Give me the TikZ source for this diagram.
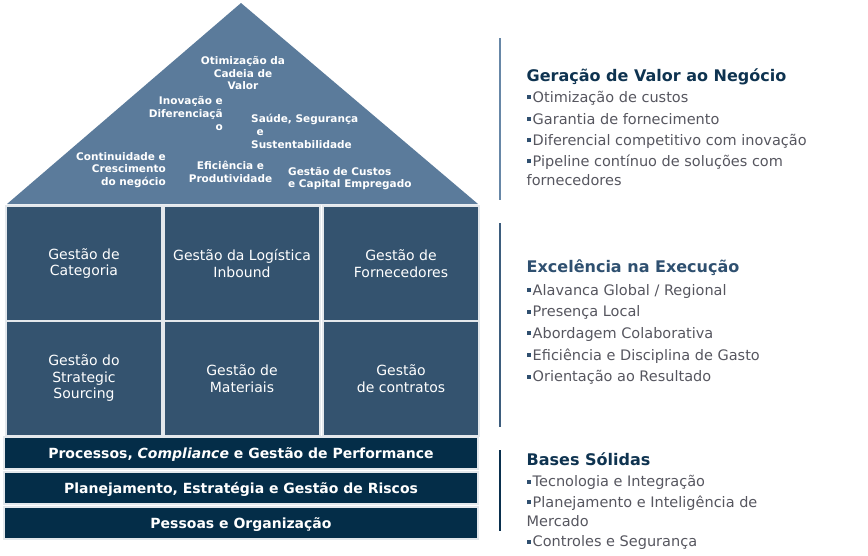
\documentclass[tikz,border=0pt]{standalone}
\usepackage{fontspec}
\setmainfont{DejaVu Sans}
\definecolor{roofc}{HTML}{5B7B9B}
\definecolor{cellc}{HTML}{34536F}
\definecolor{barc}{HTML}{042D48}
\definecolor{edgec}{HTML}{E4E8EC}
\definecolor{lineA}{HTML}{6787A7}
\definecolor{lineB}{HTML}{3D5D7D}
\definecolor{lineC}{HTML}{0A304E}
\definecolor{titleA}{HTML}{0E3350}
\definecolor{titleB}{HTML}{2F5070}
\definecolor{itemc}{HTML}{56565F}
\definecolor{bulc}{HTML}{2F4F6F}
\newcommand{\bulsq}{\textcolor{bulc}{\rule[0.22em]{4pt}{4pt}}\hspace{1.5pt}}
\tikzset{
  rooftxt/.style={text=white, font=\fontsize{10.5}{12.7}\selectfont\bfseries, inner sep=0pt},
  cellbox/.style={rectangle, fill=cellc, draw=edgec, line width=1.6pt, minimum width=156pt, minimum height=115pt, text=white, align=center, inner sep=0pt, font=\fontsize{14}{16.5}\selectfont},
  barbox/.style={rectangle, fill=barc, draw=edgec, line width=1.4pt, minimum width=474pt, minimum height=32pt, text=white, inner sep=0pt, text height=12pt, text depth=2pt, font=\fontsize{14}{16}\selectfont\bfseries},
  sidetitle/.style={anchor=base west, inner sep=0pt, font=\fontsize{16}{19}\selectfont\bfseries},
  sideitem/.style={anchor=base west, inner sep=0pt, text=itemc, font=\fontsize{14.5}{18.5}\selectfont, align=left},
  sideline/.style={line width=2.2pt}
}
\begin{document}
\begin{tikzpicture}[x=1pt,y=-1pt]
\useasboundingbox (0,0) rectangle (868,555);
% roof
\coordinate (apex) at (241,3);
\coordinate (roofL) at (7,204);
\coordinate (roofR) at (478,204);
\fill[roofc] (apex) -- (roofR) -- (roofL) -- cycle;
\node[rooftxt, align=center] (r1) at (243,73) {Otimização da\\Cadeia de\\Valor};
\node[rooftxt, align=right, anchor=east] (r2) at (223,113.5) {Inovação e\\Diferenciaçã\\o};
\node[rooftxt, align=left, anchor=west] (r3) at (251,131.5) {Saúde, Segurança\\\hspace{5.5pt}e\\Sustentabilidade};
\node[rooftxt, align=right, anchor=east] (r4) at (166,170) {Continuidade e\\Crescimento\\do negócio};
\node[rooftxt, align=center] (r5) at (230.5,172) {Eficiência e\\Produtividade};
\node[rooftxt, align=left, anchor=west] (r6) at (288,178.5) {Gestão de Custos\\e Capital Empregado};
% grid
\node[cellbox] (c11) at (84,263.5) {Gestão de\\Categoria};
\node[cellbox] (c12) at (242,263.5) {Gestão da Logística\\Inbound};
\node[cellbox] (c13) at (401,263.5) {Gestão de\\Fornecedores};
\node[cellbox] (c21) at (84,378.5) {Gestão do\\Strategic\\Sourcing};
\node[cellbox] (c22) at (242,378.5) {Gestão de\\Materiais};
\node[cellbox] (c23) at (401,378.5) {Gestão\\de contratos};
% bars
\node[barbox] (b1) at (241,453) {Processos, \textit{Compliance} e Gestão de Performance};
\node[barbox] (b2) at (241,488) {Planejamento, Estratégia e Gestão de Riscos};
\node[barbox] (b3) at (241,523) {Pessoas e Organização};
% side lines
\coordinate (la1) at (500,38); \coordinate (la2) at (500,200);
\coordinate (lb1) at (500,223); \coordinate (lb2) at (500,427);
\coordinate (lc1) at (500,450); \coordinate (lc2) at (500,531);
\draw[sideline, lineA] (la1) -- (la2);
\draw[sideline, lineB] (lb1) -- (lb2);
\draw[sideline, lineC] (lc1) -- (lc2);
% side texts: Geração
\node[sidetitle, text=titleA] (t1) at (526.5,81) {Geração de Valor ao Negócio};
\node[sideitem] (i11) at (527,102.5) {\bulsq Otimização de custos};
\node[sideitem] (i12) at (527,124) {\bulsq Garantia de fornecimento};
\node[sideitem] (i13) at (527,145.5) {\bulsq Diferencial competitivo com inovação};
\node[sideitem] (i14) at (527,185) {\bulsq Pipeline contínuo de soluções com\\\hspace{-0.5pt}fornecedores};
% Excelência
\node[sidetitle, text=titleB] (t2) at (526.5,272.5) {Excelência na Execução};
\node[sideitem] (i21) at (527,295) {\bulsq Alavanca Global / Regional};
\node[sideitem] (i22) at (527,316.7) {\bulsq Presença Local};
\node[sideitem] (i23) at (527,338.3) {\bulsq Abordagem Colaborativa};
\node[sideitem] (i24) at (527,360) {\bulsq Eficiência e Disciplina de Gasto};
\node[sideitem] (i25) at (527,381.7) {\bulsq Orientação ao Resultado};
% Bases
\node[sidetitle, text=titleA] (t3) at (526.5,465) {Bases Sólidas};
\node[sideitem] (i31) at (527,486.7) {\bulsq Tecnologia e Integração};
\node[sideitem] (i32) at (527,526) {\bulsq Planejamento e Inteligência de\\\hspace{-0.5pt}Mercado};
\node[sideitem] (i33) at (527,546.7) {\bulsq Controles e Segurança};
\end{tikzpicture}
\end{document}
